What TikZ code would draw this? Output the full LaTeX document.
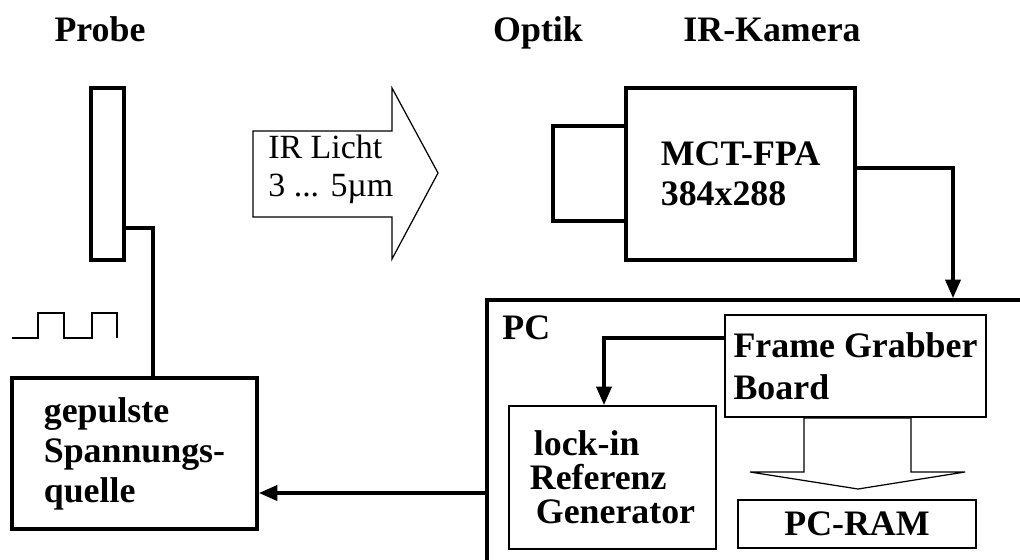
\documentclass[tikz,border=0pt]{standalone}
\usepackage{fontspec}
\setmainfont{Liberation Serif}
\usetikzlibrary{arrows.meta,positioning}

\begin{document}
\begin{tikzpicture}[x=0.02cm,y=-0.02cm,
 every node/.style={font=\fontsize{20.4}{22.7}\selectfont\bfseries,inner sep=0pt},
 thickbox/.style={draw,line width=2.1pt,align=left},
 thinbox/.style={draw,line width=1pt,align=left},
 wire/.style={line width=2.1pt},
 feed/.style={wire,-{Triangle[length=10.5pt,width=8.5pt]}},
 hollow/.style={draw,line width=0.7pt,line join=miter}]
\clip (0,0) rectangle (1020,560);
% titles
\foreach \x/\t [count=\i] in {100/Probe,538/Optik,772/IR-Kamera}
  \node[anchor=base] (title\i) at (\x,42) {\t};
% sample, source and camera
\node[thickbox,minimum width=0.66cm,minimum height=3.44cm] (probe) at (107.5,174) {};
\node[thickbox,minimum width=4.9cm,minimum height=3.02cm] (source) at (134.5,453.5) {gepulste\\Spannungs-\\quelle};
\node[thickbox,minimum width=1.46cm,minimum height=1.9cm] (lens) at (589.5,173.5) {};
\node[thickbox,minimum width=4.58cm,minimum height=3.44cm] (camera) at (740.5,174) {MCT-FPA\\384x288};
\draw[line width=0.6pt] (12,338)--(38,338)--(38,313)--(64,313)--(64,338)--(92,338)--(92,313)--(117,313)--(117,338);
% IR light
\draw[hollow] (253,131)--(392,131)--(392,88)--(438,173)--(392,259)--(392,217)--(253,217)--cycle;
\node[anchor=west,align=left,font=\fontsize{19.3}{21.5}\selectfont] (light) at (268,169) {IR Licht\\3 ... 5µm};
% PC
\node[thickbox,minimum width=11.06cm,minimum height=5.6cm] (pc) at (763.5,440) {};
\node[anchor=west] (pclabel) at (502,328) {PC};
\node[thinbox,minimum width=5.22cm,minimum height=2.04cm,font=\fontsize{20.4}{23.8}\selectfont\bfseries] (grabber) at (855.5,366) {Frame Grabber\\Board};
\node[thinbox,minimum width=4.14cm,minimum height=2.86cm,font=\fontsize{20.4}{19.3}\selectfont\bfseries] (lockin) at (612.5,477.5) {\hspace*{2.3pt}lock-in\\Referenz\\\hspace*{3.4pt}Generator};
\node[thinbox,line width=1.2pt,minimum width=4.76cm,minimum height=0.96cm] (ram) at (857,524) {PC-RAM};
\draw[hollow] (804,418)--(911,418)--(911,472)--(965,472)--(858,489)--(750,472)--(804,472)--cycle;
% connections
\draw[wire] (probe.east |- 0,228) -| (source.north -| 153,0);
\draw[feed] (camera.east |- 0,168) -| (pc.north -| 953,0);
\draw[feed] (grabber.west |- 0,338) -| (lockin.north -| 604,0);
\draw[feed] (pc.west |- 0,493) -- (source.east |- 0,493);
\end{tikzpicture}
\end{document}
